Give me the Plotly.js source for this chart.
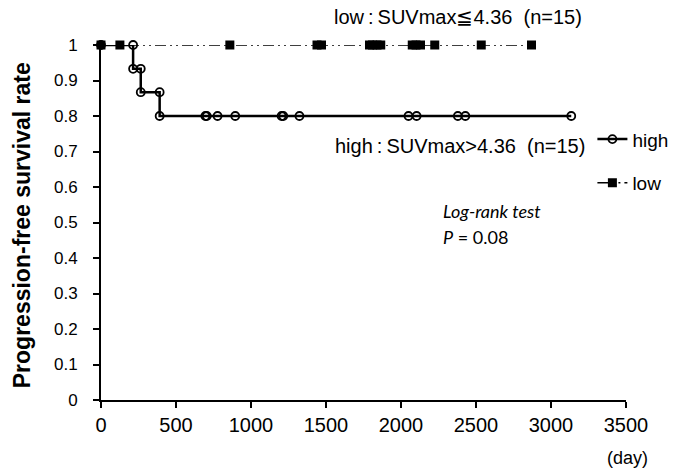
<!DOCTYPE html>
<html>
<head>
<meta charset="utf-8">
<script src="https://cdn.plot.ly/plotly-3.0.1.min.js"></script>
<style>html,body{margin:0;padding:0;background:#fff;}#chart{width:693px;height:469px;}</style>
</head>
<body>
<div id="chart"></div>
<script>
// High SUVmax group (Kaplan-Meier steps and censored points)
const highDays = [0, 214, 214, 265, 265, 391, 391, 696, 705, 777, 895, 1204, 1215, 1323, 2050, 2104, 2379, 2429, 3135];
const highRate = [1, 1, 0.933, 0.933, 0.867, 0.867, 0.8, 0.8, 0.8, 0.8, 0.8, 0.8, 0.8, 0.8, 0.8, 0.8, 0.8, 0.8, 0.8];
// Low SUVmax group
const lowDays = [0, 126, 859, 1440, 1470, 1790, 1810, 1840, 1865, 2075, 2100, 2130, 2225, 2535, 2870];
const lowRate = [1, 1, 1, 1, 1, 1, 1, 1, 1, 1, 1, 1, 1, 1, 1];
const xTicks = [0, 500, 1000, 1500, 2000, 2500, 3000, 3500];
const yTicks = [0, 0.1, 0.2, 0.3, 0.4, 0.5, 0.6, 0.7, 0.8, 0.9, 1];
const yTickText = ['0', '0.1', '0.2', '0.3', '0.4', '0.5', '0.6', '0.7', '0.8', '0.9', '1'];

const F = 'Liberation Sans, Arial, sans-serif';
const traces = [
  {x: highDays, y: highRate, name: 'high', type: 'scatter', mode: 'lines+markers', legendgroup: 'h',
   line: {color: '#000', width: 2.5, shape: 'linear'},
   marker: {symbol: 'circle-open', size: 8, color: '#000', line: {width: 1.8, color: '#000'}},
   cliponaxis: false},
  {x: lowDays, y: lowRate, name: 'low', type: 'scatter', mode: 'lines+markers', legendgroup: 'l',
   line: {color: '#000', width: 1.5, dash: '11px,4px,2px,4px,2px,4px'},
   marker: {symbol: 'square', size: 9, color: '#000'},
   cliponaxis: false}
];
const layout = {
  width: 693, height: 469,
  margin: {l: 101, r: 67, t: 45, b: 69},
  paper_bgcolor: '#fff', plot_bgcolor: '#fff',
  font: {family: F, size: 16, color: '#000'},
  showlegend: true,
  legend: {x: 0.936, y: 0.788, xanchor: 'left', yanchor: 'top', bgcolor: 'rgba(0,0,0,0)',
           font: {family: F, size: 19}, tracegroupgap: 16, itemwidth: 30},
  xaxis: {range: [0, 3500], tickvals: xTicks, showgrid: false, zeroline: false,
          showline: true, linecolor: '#000', linewidth: 2, ticks: 'outside', ticklen: 6,
          tickwidth: 2, tickcolor: '#000', tickfont: {family: F, size: 20}, fixedrange: true},
  yaxis: {range: [0, 1], tickvals: yTicks, ticktext: yTickText, showgrid: false, zeroline: false,
          showline: true, linecolor: '#000', linewidth: 2, ticks: 'outside', ticklen: 6,
          tickwidth: 2, tickcolor: '#000', tickfont: {family: F, size: 17}, ticklabelstandoff: 12},
  annotations: [
    {xref: 'paper', yref: 'paper', x: -0.150, y: 0.493, xanchor: 'center', yanchor: 'middle', showarrow: false,
     textangle: -90, text: '<b>Progression-free survival rate</b>', font: {family: F, size: 23}},
    {xref: 'paper', yref: 'paper', x: 0.68, y: 1.079, xanchor: 'center', yanchor: 'middle', showarrow: false,
     text: 'low\u2009:\u2009SUVmax≦4.36  (n=15)', font: {family: F, size: 20}},
    {xref: 'paper', yref: 'paper', x: 0.684, y: 0.7155, xanchor: 'center', yanchor: 'middle', showarrow: false,
     text: 'high\u2009:\u2009SUVmax>4.36  (n=15)', font: {family: F, size: 20}},
    {xref: 'paper', yref: 'paper', x: 0.6476, y: 0.532, xanchor: 'left', yanchor: 'middle', showarrow: false,
     text: '<i>Log-rank test</i>', font: {family: 'Lato, Open Sans, sans-serif', size: 18}},
    {xref: 'paper', yref: 'paper', x: 0.6476, y: 0.46, xanchor: 'left', yanchor: 'middle', showarrow: false,
     text: '<i>P</i> = 0.08', font: {family: 'Lato, Open Sans, sans-serif', size: 18}},
    {xref: 'paper', yref: 'paper', x: 1.002, y: -0.163, xanchor: 'center', yanchor: 'middle', showarrow: false,
     text: '(day)', font: {family: F, size: 18}}
  ]
};
Plotly.newPlot('chart', traces, layout, {displayModeBar: false, staticPlot: true});
</script>
</body>
</html>
